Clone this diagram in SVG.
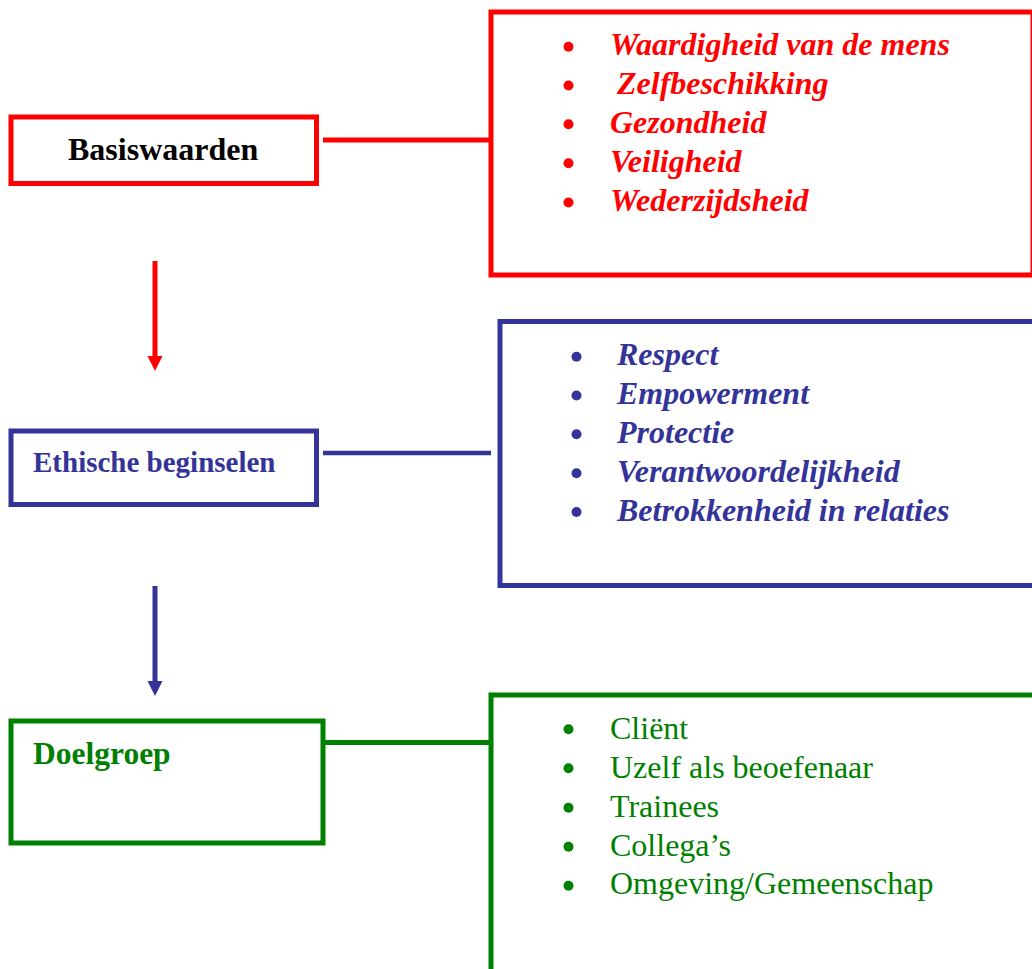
<svg xmlns="http://www.w3.org/2000/svg" width="1032" height="969" viewBox="0 0 1032 969">
<style>
.box{fill:none;stroke-width:5}
.red{stroke:#ff0000}
.blue{stroke:#333399}
.green{stroke:#008000}
.t{font-family:"Liberation Serif","Times New Roman",serif}
.bi{font-weight:bold;font-style:italic}
.b{font-weight:bold}
</style>
<rect width="1032" height="969" fill="#ffffff"/>
<g id="connectors">
<line x1="323" y1="140" x2="491" y2="140" stroke="#ff0000" stroke-width="5"/>
<line x1="323" y1="453" x2="491" y2="453" stroke="#333399" stroke-width="4.5"/>
<line x1="325" y1="742.5" x2="491" y2="742.5" stroke="#008000" stroke-width="5"/>
<line x1="155" y1="261" x2="155" y2="357" stroke="#ff0000" stroke-width="5"/>
<polygon points="147.5,356 162.5,356 155,371" fill="#ff0000"/>
<line x1="155" y1="586" x2="155" y2="682" stroke="#333399" stroke-width="5"/>
<polygon points="147.5,681 162.5,681 155,696" fill="#333399"/>
</g>
<g id="basiswaarden">
<rect class="box red" x="11" y="117" width="305.5" height="66.5"/>
<text class="t b" x="68" y="160" font-size="32" fill="#000000">Basiswaarden</text>
</g>
<g id="basiswaarden-list">
<rect class="box red" x="491" y="12" width="542" height="263"/>
<g fill="#ff0000">
<circle cx="568.5" cy="46.7" r="5"/>
<circle cx="568.5" cy="85.5" r="5"/>
<circle cx="568.5" cy="124.3" r="5"/>
<circle cx="568.5" cy="163.2" r="5"/>
<circle cx="568.5" cy="202.5" r="5"/>
</g>
<g class="t bi" font-size="32" fill="#ff0000">
<text x="610" y="55">Waardigheid van de mens</text>
<text x="617" y="94">Zelfbeschikking</text>
<text x="610" y="133">Gezondheid</text>
<text x="610" y="172">Veiligheid</text>
<text x="610" y="211">Wederzijdsheid</text>
</g>
</g>
<g id="ethische">
<rect class="box blue" x="11" y="431" width="305.5" height="73.5"/>
<text class="t b" x="33" y="471.5" font-size="29" fill="#333399">Ethische beginselen</text>
</g>
<g id="ethische-list">
<rect class="box blue" x="500" y="321.5" width="545" height="264"/>
<g fill="#333399">
<circle cx="576.5" cy="356.7" r="5"/>
<circle cx="576.5" cy="395.5" r="5"/>
<circle cx="576.5" cy="434.3" r="5"/>
<circle cx="576.5" cy="473.2" r="5"/>
<circle cx="576.5" cy="512" r="5"/>
</g>
<g class="t bi" font-size="32" fill="#333399">
<text x="617" y="365">Respect</text>
<text x="617" y="404">Empowerment</text>
<text x="617" y="443">Protectie</text>
<text x="617" y="482">Verantwoordelijkheid</text>
<text x="617" y="521">Betrokkenheid in relaties</text>
</g>
</g>
<g id="doelgroep">
<rect class="box green" x="11" y="721" width="312" height="122"/>
<text class="t b" x="33" y="764" font-size="31.5" fill="#008000">Doelgroep</text>
</g>
<g id="doelgroep-list">
<rect class="box green" x="491" y="695" width="560" height="300"/>
<g fill="#008000">
<circle cx="568.5" cy="729.3" r="5"/>
<circle cx="568.5" cy="768.3" r="5"/>
<circle cx="568.5" cy="807.7" r="5"/>
<circle cx="568.5" cy="846.7" r="5"/>
<circle cx="568.5" cy="885.7" r="5"/>
</g>
<g class="t" font-size="32" fill="#008000">
<text x="610" y="739.3">Cliënt</text>
<text x="610" y="778.3">Uzelf als beoefenaar</text>
<text x="610" y="817">Trainees</text>
<text x="610" y="855.5">Collega’s</text>
<text x="610" y="894">Omgeving/Gemeenschap</text>
</g>
</g>
</svg>
